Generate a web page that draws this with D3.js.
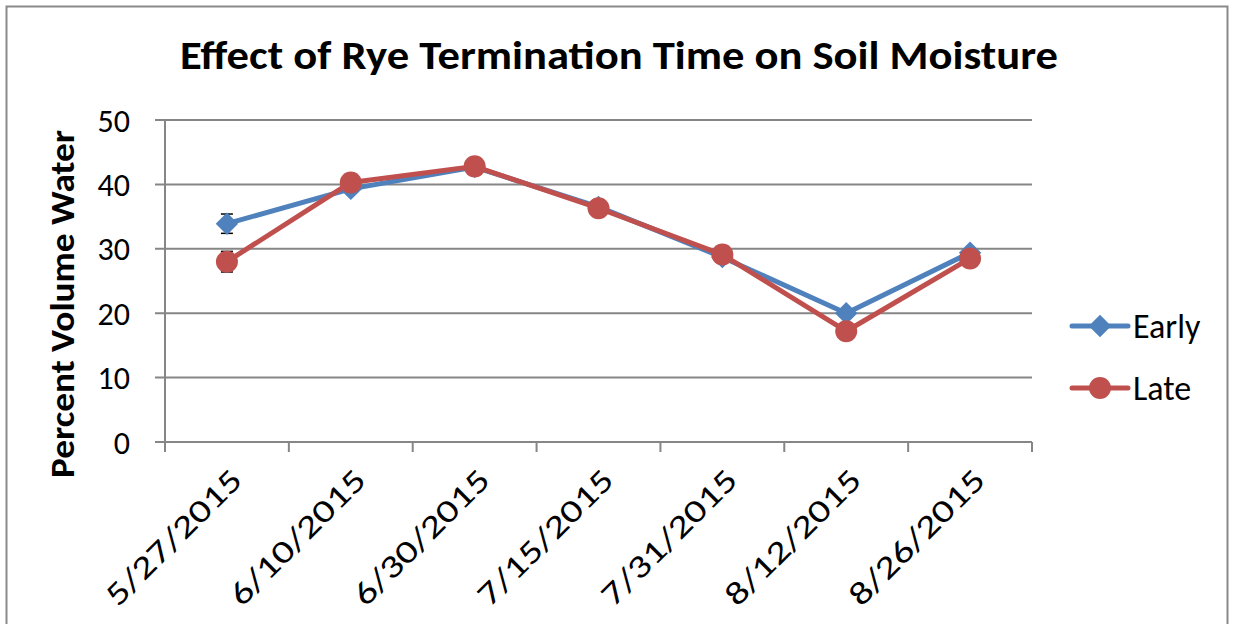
<!DOCTYPE html>
<html>
<head>
<meta charset="utf-8">
<script src="https://d3js.org/d3.v7.min.js"></script>
<style>
  body { margin: 0; background: #fff; }
  text { font-family: Carlito, Lato, "Liberation Sans", sans-serif; }
</style>
</head>
<body>
<div id="chart"></div>
<script>
const dates = ['5/27/2015', '6/10/2015', '6/30/2015', '7/15/2015', '7/31/2015', '8/12/2015', '8/26/2015'];
const early = [33.9, 39.3, 42.7, 36.5, 28.7, 20.0, 29.4];
const earlyErr = [1.5, 0.5, 0.4, 1.0, 0.4, 0.6, 0.5];
const late = [28.0, 40.3, 42.8, 36.3, 29.1, 17.2, 28.5];
const lateErr = [1.6, 0.5, 0.4, 1.0, 0.4, 0.4, 0.5];
const yTicks = [0, 10, 20, 30, 40, 50];

const W = 1233, H = 624;
const m = { left: 165, right: 1032, top: 120, bottom: 442 };

const svg = d3.select('#chart').append('svg')
  .attr('width', W).attr('height', H);

// 外框
svg.append('rect')
  .attr('x', 6.5).attr('y', 6.5)
  .attr('width', 1221).attr('height', 640)
  .attr('fill', '#fff').attr('stroke', '#898989').attr('stroke-width', 2);

const x = d3.scaleBand().domain(dates).range([m.left, m.right]);
const y = d3.scaleLinear().domain([0, 50]).range([m.bottom, m.top]);
const cx = d => x(d) + x.bandwidth() / 2;

// 网格线
svg.append('g')
  .selectAll('line')
  .data(yTicks)
  .enter()
  .append('line')
  .attr('x1', m.left - 10).attr('x2', m.right)
  .attr('y1', d => y(d)).attr('y2', d => y(d))
  .attr('stroke', '#868686').attr('stroke-width', 2);

// 坐标轴
svg.append('line')
  .attr('x1', m.left).attr('x2', m.left)
  .attr('y1', m.top).attr('y2', m.bottom + 10)
  .attr('stroke', '#868686').attr('stroke-width', 2);

const xBounds = dates.map(d => x(d)).concat([m.right]);
svg.append('g')
  .selectAll('line')
  .data(xBounds)
  .enter()
  .append('line')
  .attr('x1', d => d).attr('x2', d => d)
  .attr('y1', m.bottom).attr('y2', m.bottom + 10)
  .attr('stroke', '#868686').attr('stroke-width', 2);

// y 刻度标签
svg.append('g')
  .selectAll('text')
  .data(yTicks)
  .enter()
  .append('text')
  .attr('x', 130).attr('y', d => y(d))
  .attr('dy', '0.36em')
  .attr('text-anchor', 'end')
  .attr('font-size', 32)
  .text(d => d);

// x 刻度标签
svg.append('g')
  .selectAll('text')
  .data(dates)
  .enter()
  .append('text')
  .attr('transform', d => `translate(${cx(d) + 17},${m.bottom + 40}) rotate(-45)`)
  .attr('text-anchor', 'end')
  .attr('font-size', 32)
  .attr('textLength', 178)
  .attr('lengthAdjust', 'spacingAndGlyphs')
  .text(d => d);

// 标题
svg.append('text')
  .attr('x', 619).attr('y', 69)
  .attr('text-anchor', 'middle')
  .attr('font-size', 40).attr('font-weight', 'bold')
  .attr('textLength', 878)
  .attr('lengthAdjust', 'spacingAndGlyphs')
  .text('Effect of Rye Termination Time on Soil Moisture');

svg.append('text')
  .attr('transform', `translate(74,${(m.top + m.bottom) / 2 + 23}) rotate(-90)`)
  .attr('text-anchor', 'middle')
  .attr('font-size', 34).attr('font-weight', 'bold')
  .attr('textLength', 348)
  .attr('lengthAdjust', 'spacingAndGlyphs')
  .text('Percent Volume Water');

const series = [
  { name: 'Early', values: early, err: earlyErr, color: '#4F81BD', marker: 'diamond' },
  { name: 'Late', values: late, err: lateErr, color: '#C0504D', marker: 'circle' }
];

const line = d3.line().x((v, i) => cx(dates[i])).y(v => y(v));

series.forEach(s => {
  const g = svg.append('g');
  g.append('path')
    .datum(s.values)
    .attr('d', line)
    .attr('fill', 'none')
    .attr('stroke', s.color)
    .attr('stroke-width', 5)
    .attr('stroke-linejoin', 'round');

  // 误差线
  const eb = g.append('g')
    .selectAll('g')
    .data(s.values)
    .enter()
    .append('g')
    .attr('stroke', '#000').attr('stroke-width', 1.5);
  eb.append('line')
    .attr('x1', (v, i) => cx(dates[i])).attr('x2', (v, i) => cx(dates[i]))
    .attr('y1', (v, i) => y(v + s.err[i])).attr('y2', (v, i) => y(v - s.err[i]));
  eb.append('line')
    .attr('x1', (v, i) => cx(dates[i]) - 6).attr('x2', (v, i) => cx(dates[i]) + 6)
    .attr('y1', (v, i) => y(v + s.err[i])).attr('y2', (v, i) => y(v + s.err[i]));
  eb.append('line')
    .attr('x1', (v, i) => cx(dates[i]) - 6).attr('x2', (v, i) => cx(dates[i]) + 6)
    .attr('y1', (v, i) => y(v - s.err[i])).attr('y2', (v, i) => y(v - s.err[i]));

  g.append('g')
    .selectAll('path')
    .data(s.values)
    .enter()
    .append('path')
    .attr('transform', (v, i) => `translate(${cx(dates[i])},${y(v)})`)
    .attr('d', s.marker === 'diamond'
      ? d3.symbol().type(d3.symbolDiamond2).size(320)()
      : d3.symbol().type(d3.symbolCircle).size(380)())
    .attr('fill', s.color);
});

// 图例
const legend = svg.append('g')
  .selectAll('g')
  .data(series)
  .enter()
  .append('g')
  .attr('transform', (s, i) => `translate(1072,${326 + i * 62})`);
legend.append('line')
  .attr('x1', 0).attr('x2', 56)
  .attr('stroke', s => s.color).attr('stroke-width', 5)
  .attr('stroke-linecap', 'round');
legend.append('path')
  .attr('transform', 'translate(28,0)')
  .attr('d', s => s.marker === 'diamond'
    ? d3.symbol().type(d3.symbolDiamond2).size(320)()
    : d3.symbol().type(d3.symbolCircle).size(380)())
  .attr('fill', s => s.color);
legend.append('text')
  .attr('x', 61).attr('dy', '0.36em')
  .attr('font-size', 34)
  .text(s => s.name);
</script>
</body>
</html>
